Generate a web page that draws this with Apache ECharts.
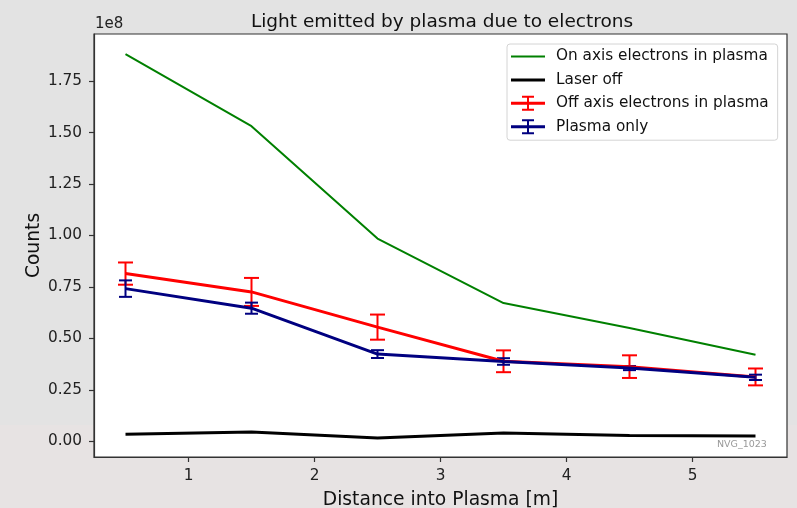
<!DOCTYPE html>
<html>
<head>
<meta charset="utf-8">
<script src="https://cdn.jsdelivr.net/npm/echarts@6/dist/echarts.min.js"></script>
<style>
html,body{margin:0;padding:0;background:#e3e3e3;}
#chart{width:797px;height:508px;}
</style>
</head>
<body>
<div id="chart"></div>
<script>
// Data (counts in units of 1e8)
const distances = [0.5, 1.5, 2.5, 3.5, 4.5, 5.5];
const onAxis    = [1.881, 1.531, 0.985, 0.672, 0.551, 0.421];
const laserOff  = [0.035, 0.045, 0.016, 0.040, 0.028, 0.026];
const offAxis    = [0.815, 0.726, 0.555, 0.389, 0.363, 0.313];
const offAxisErr = [0.054, 0.068, 0.061, 0.053, 0.055, 0.041];
const plasma     = [0.742, 0.647, 0.424, 0.388, 0.356, 0.311];
const plasmaErr  = [0.040, 0.027, 0.019, 0.016, 0.010, 0.013];
const xTicks = [1, 2, 3, 4, 5];
const yTicks = [0, 0.25, 0.5, 0.75, 1.0, 1.25, 1.5, 1.75];
const names = ['On axis electrons in plasma', 'Laser off', 'Off axis electrons in plasma', 'Plasma only'];

const FONT = 'DejaVu Sans';
const pairs = (ys) => distances.map((x, i) => [x, ys[i]]);
const errData = (ys, es) => distances.map((x, i) => [x, ys[i], es[i]]);

function errRender(capW) {
  return function (params, api) {
    const x = api.value(0), y = api.value(1), e = api.value(2);
    const top = api.coord([x, y + e]);
    const bot = api.coord([x, y - e]);
    const style = { stroke: api.visual('color'), lineWidth: 2 };
    return {
      type: 'group',
      children: [
        { type: 'line', shape: { x1: top[0], y1: top[1], x2: bot[0], y2: bot[1] }, style },
        { type: 'line', shape: { x1: top[0] - capW / 2, y1: top[1], x2: top[0] + capW / 2, y2: top[1] }, style },
        { type: 'line', shape: { x1: bot[0] - capW / 2, y1: bot[1], x2: bot[0] + capW / 2, y2: bot[1] }, style }
      ]
    };
  };
}

const tiny = 'M0,0 L0.01,0 L0.01,0.01 Z M33.99,15 L34,15 L34,14.99 Z ';
const iconLine2 = 'path://' + tiny + 'M0,6.5 L34,6.5 L34,8.5 L0,8.5 Z';
const iconLine3 = 'path://' + tiny + 'M0,6 L34,6 L34,9 L0,9 Z';
const iconErr = 'path://M0,6 L34,6 L34,9 L0,9 Z M16,0 L18,0 L18,15 L16,15 Z M11,0 L23,0 L23,2 L11,2 Z M11,13 L23,13 L23,15 L11,15 Z';

const axisLine = { show: true, onZero: false, lineStyle: { color: '#333', width: 1.2 } };

const chart = echarts.init(document.getElementById('chart'), null, { renderer: 'canvas' });
chart.setOption({
  animation: false,
  backgroundColor: 'transparent',
  textStyle: { fontFamily: FONT },
  title: {
    text: 'Light emitted by plasma due to electrons',
    left: 437, top: 8, textAlign: 'center',
    textStyle: { fontFamily: FONT, fontSize: 18.5, fontWeight: 'normal', color: '#111' }
  },
  graphic: [
    { type: 'rect', z: -10, silent: true, shape: { x: 0, y: 0, width: 797, height: 425 }, style: { fill: '#e3e3e3' } },
    { type: 'rect', z: -10, silent: true, shape: { x: 0, y: 425, width: 797, height: 83 }, style: { fill: '#e7e3e3' } },
    { type: 'text', left: 95, top: 17, style: { text: '1e8', font: '15px "DejaVu Sans"', fill: '#222' } },
    { type: 'text', left: 717, top: 440, z: 10, style: { text: 'NVG_1023', font: '9.5px "DejaVu Sans"', fill: '#999' } }
  ],
  grid: {
    left: 94, right: 10, top: 34, bottom: 51,
    outerBoundsMode: 'none', containLabel: false,
    show: true, backgroundColor: '#fff', borderColor: '#333', borderWidth: 1.2
  },
  legend: {
    orient: 'vertical', left: 507, top: 44,
    padding: [5, 9, 6, 4], itemGap: 8.4, itemWidth: 34, itemHeight: 15,
    backgroundColor: 'rgba(255,255,255,0.85)', borderColor: '#d4d4d4', borderWidth: 1, borderRadius: 3,
    textStyle: { fontFamily: FONT, fontSize: 15.3, color: '#111', padding: [0, 0, 0, 6] },
    data: [
      { name: names[0], icon: iconLine2 },
      { name: names[1], icon: iconLine3 },
      { name: names[2], icon: iconErr },
      { name: names[3], icon: iconErr }
    ]
  },
  xAxis: {
    type: 'value', min: 0.25, max: 5.75,
    name: 'Distance into Plasma [m]', nameLocation: 'middle', nameGap: 34, nameMoveOverlap: false,
    nameTextStyle: { fontFamily: FONT, fontSize: 18.7, color: '#111' },
    axisLine: axisLine,
    splitLine: { show: false },
    axisTick: { show: true, inside: false, length: 5, customValues: xTicks, lineStyle: { color: '#333', width: 1.2 } },
    axisLabel: { customValues: xTicks, margin: 12, fontFamily: FONT, fontSize: 15.3, color: '#222' }
  },
  yAxis: {
    type: 'value', min: -0.076, max: 1.979,
    name: 'Counts', nameLocation: 'middle', nameGap: 50, nameMoveOverlap: false,
    nameTextStyle: { fontFamily: FONT, fontSize: 18.7, color: '#111' },
    axisLine: axisLine,
    splitLine: { show: false },
    axisTick: { show: true, inside: false, length: 5, customValues: yTicks, lineStyle: { color: '#333', width: 1.2 } },
    axisLabel: { customValues: yTicks, margin: 12, fontFamily: FONT, fontSize: 15.3, color: '#222',
      formatter: (v) => v.toFixed(2) }
  },
  series: [
    { name: names[0], type: 'line', data: pairs(onAxis), showSymbol: false, symbol: 'none',
      color: '#008000', lineStyle: { width: 2, color: '#008000' } },
    { name: names[1], type: 'line', data: pairs(laserOff), showSymbol: false, symbol: 'none',
      color: '#000', lineStyle: { width: 3, color: '#000' } },
    { name: names[2], type: 'line', data: pairs(offAxis), showSymbol: false, symbol: 'none',
      color: '#ff0000', lineStyle: { width: 3, color: '#ff0000' } },
    { name: names[2], type: 'custom', data: errData(offAxis, offAxisErr), renderItem: errRender(15),
      color: '#ff0000', encode: { x: 0, y: 1 } },
    { name: names[3], type: 'line', data: pairs(plasma), showSymbol: false, symbol: 'none',
      color: '#000080', lineStyle: { width: 3, color: '#000080' } },
    { name: names[3], type: 'custom', data: errData(plasma, plasmaErr), renderItem: errRender(13),
      color: '#000080', encode: { x: 0, y: 1 } }
  ]
});
</script>
</body>
</html>
